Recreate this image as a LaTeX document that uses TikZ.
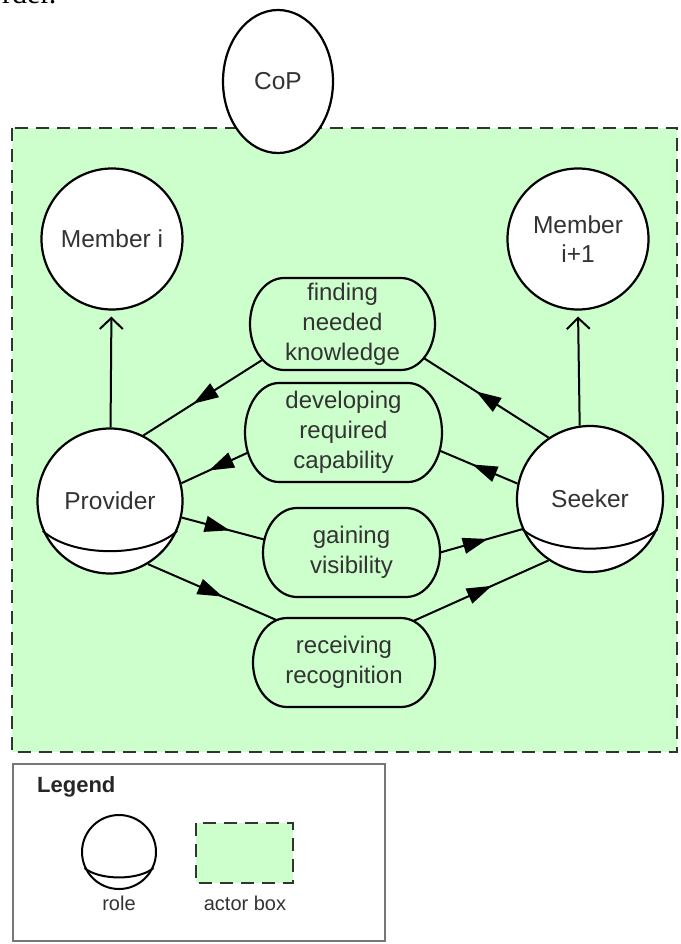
\documentclass[tikz,border=0pt]{standalone}
\usepackage{fontspec}
\setmainfont{Liberation Sans}
\newfontfamily\pagefont{Liberation Serif}
\usetikzlibrary{arrows.meta,decorations.markings,shapes.geometric,calc}
\definecolor{actorgreen}{HTML}{CCFFCC}
\definecolor{txtgray}{HTML}{333333}
\definecolor{dashgray}{HTML}{333333}
\definecolor{legendgray}{HTML}{777777}
% goal outline: centre x, centre y, half width, half height, end radius
\newcommand{\goaloutline}[5]{%
  \draw[goalline] (#1-#3+#5,#2-#4) -- (#1+#3-#5,#2-#4)
    arc[start angle=-90,end angle=90,x radius=#5,y radius=#4]
    -- (#1-#3+#5,#2+#4)
    arc[start angle=90,end angle=270,x radius=#5,y radius=#4] -- cycle;}
\begin{document}
\begin{tikzpicture}[x=1pt,y=-1pt,
  role/.style={circle,draw=black,line width=2.2pt,fill=white,inner sep=0pt,text=txtgray,font=\fontsize{24.5}{29}\selectfont,align=center},
  goalline/.style={draw=black,line width=2.2pt,fill=actorgreen},
  goal/.style={rectangle,inner sep=0pt,text=txtgray,font=\fontsize{24}{30}\selectfont,align=center},
  flow/.style={line width=2pt,postaction={decorate},decoration={markings,mark=at position 0.58 with {\arrow{Triangle[length=25pt,width=16pt]}}}},
  upflow/.style={line width=2pt,-{Straight Barb[length=11pt,width=23pt,line width=2pt]},shorten >=6pt},
  actorbox/.style={draw=dashgray,line width=2pt,fill=actorgreen,dash pattern=on 13pt off 8pt},
  arcline/.style={line width=2pt},
  legtext/.style={text=txtgray,font=\fontsize{20}{24}\selectfont,inner sep=0pt},
]
\useasboundingbox (0,0) rectangle (680,944);
\fill[white] (0,0) rectangle (680,944);

% fragment of page text cut off at the top
\begin{scope}
  \clip (0,0) rectangle (140,6);
  \node[anchor=base west,inner sep=0pt,font=\pagefont\fontsize{30}{30}\selectfont] (frag) at (2,4) {rder.};
\end{scope}

% actor box
\draw[actorbox] (12,128) rectangle (677,752);

% roles
\node[role,ellipse,minimum width=110,minimum height=143] (cop) at (278,81.5) {CoP};
\node[role,minimum size=141] (mi) at (112,239) {Member i};
\node[role,minimum size=141] (mi1) at (578,239) {Member\\i+1};
\node[role,minimum size=145] (pv) at (110,501) {Provider};
\node[role,minimum size=146] (sk) at (590,499) {Seeker};

\draw[arcline] (pv.204) .. controls +(30,27) and +(-30,27) .. (pv.336);
\draw[arcline] (sk.204) .. controls +(30,26) and +(-30,26) .. (sk.336);

% goals
\goaloutline{342.5}{324}{92.5}{46}{34}
\node[goal,minimum width=185,minimum height=92] (fk) at (342.5,324) {finding\\needed\\knowledge};
\goaloutline{343.5}{432.5}{98.5}{49.5}{34}
\node[goal,minimum width=197,minimum height=99] (dc) at (343.5,432.5) {developing\\required\\capability};
\goaloutline{351.5}{552.5}{88.5}{44.5}{34}
\node[goal,minimum width=177,minimum height=89] (gv) at (351.5,552.5) {gaining\\visibility};
\goaloutline{344}{662.5}{91}{44.5}{34}
\node[goal,minimum width=182,minimum height=89] (rr) at (344,662.5) {receiving\\recognition};

% connectors
\draw[upflow] (pv) -- (mi);
\draw[upflow] (sk.98) -- (mi1.south);
\draw[flow] ($(fk.center)+(-79.9,35.7)$) -- (pv.63);
\draw[flow] (sk.124) -- ($(fk.center)+(81.3,34.1)$);
\draw[flow] ($(dc.center)+(-96.5,20.5)$) -- (pv.14);
\draw[flow] (sk.168) -- ($(dc.center)+(96.1,18.1)$);
\draw[flow] (pv.-13) -- ($(gv.center)+(-87,-12.9)$);
\draw[flow] (gv.east) -- (sk.204);
\draw[flow] (pv.-59) -- ($(rr.center)+(-67.4,-42.4)$);
\draw[flow] ($(rr.center)+(69.3,-41.5)$) -- (sk.236);

% legend
\draw[legendgray,line width=2pt] (13,764) rectangle (385,941);
\node[anchor=west,inner sep=0pt,text=black!85,font=\bfseries\fontsize{22}{26}\selectfont] (legtitle) at (37,787) {Legend};
\node[role,minimum size=74,line width=2pt] (lrole) at (119,852) {};
\draw[arcline] (lrole.205) .. controls +(15,12.5) and +(-15,12.5) .. (lrole.335);
\node[legtext] (lroletxt) at (119,903) {role};
\draw[actorbox] (196,823) rectangle (293,883);
\node[legtext] (lactortxt) at (245,903) {actor box};
\end{tikzpicture}
\end{document}
